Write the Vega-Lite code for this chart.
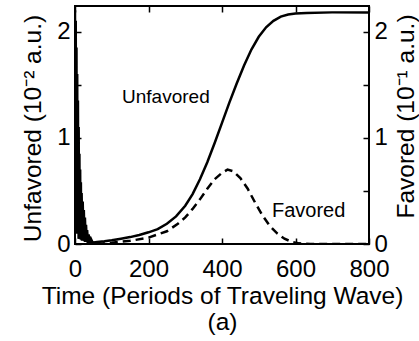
{
  "$schema": "https://vega.github.io/schema/vega-lite/v6.json",
  "width": 294,
  "height": 238,
  "autosize": {"type": "none"},
  "padding": {"left": 75, "top": 6, "right": 50, "bottom": 97},
  "background": "white",
  "config": {
    "view": {"stroke": "black", "strokeWidth": 2},
    "font": "Liberation Sans",
    "axis": {
      "domain": false,
      "grid": false,
      "labelFont": "Liberation Sans",
      "titleFont": "Liberation Sans",
      "labelFontSize": 24,
      "titleFontSize": 24.5,
      "titleFontWeight": "normal",
      "labelColor": "black",
      "titleColor": "black",
      "tickColor": "black",
      "tickWidth": 1.5,
      "tickSize": -6,
      "labelPadding": 11,
      "labelFlush": false,
      "format": ".0f"
    }
  },
  "datasets": {
    "unf": [
      {"t":0,"v":2.2},{"t":1,"v":0.3},{"t":2,"v":2.1},{"t":3,"v":0.2},{"t":4,"v":1.85},{"t":5,"v":0.1},{"t":6,"v":1.6},{"t":7,"v":0.15},{"t":8,"v":1.35},{"t":9,"v":0.1},{"t":10,"v":1.1},{"t":11,"v":0.05},{"t":12,"v":0.85},{"t":13,"v":0.1},{"t":14,"v":0.7},{"t":15,"v":0.05},{"t":16,"v":0.58},{"t":17,"v":0.08},{"t":18,"v":0.48},{"t":20,"v":0.05},{"t":21,"v":0.4},{"t":23,"v":0.04},{"t":24,"v":0.32},{"t":26,"v":0.03},{"t":27,"v":0.25},{"t":29,"v":0.03},{"t":30,"v":0.18},{"t":32,"v":0.02},{"t":33,"v":0.13},{"t":35,"v":0.02},{"t":37,"v":0.09},{"t":40,"v":0.03},{"t":43,"v":0.05},{"t":47,"v":0.02},{"t":50,"v":0.015},{"t":60,"v":0.018},{"t":80,"v":0.025},{"t":100,"v":0.035},{"t":125,"v":0.05},{"t":150,"v":0.065},{"t":175,"v":0.085},{"t":200,"v":0.11},{"t":225,"v":0.14},{"t":250,"v":0.19},{"t":275,"v":0.26},{"t":300,"v":0.36},{"t":320,"v":0.47},{"t":340,"v":0.61},{"t":360,"v":0.77},{"t":380,"v":0.95},{"t":400,"v":1.14},{"t":420,"v":1.33},{"t":440,"v":1.51},{"t":460,"v":1.68},{"t":480,"v":1.83},{"t":500,"v":1.95},{"t":520,"v":2.04},{"t":540,"v":2.1},{"t":560,"v":2.14},{"t":580,"v":2.16},{"t":600,"v":2.17},{"t":630,"v":2.175},{"t":700,"v":2.18},{"t":800,"v":2.18}
    ],
    "fav": [
      {"t":0,"v":2.0},{"t":1,"v":0.2},{"t":2,"v":1.9},{"t":3,"v":0.1},{"t":4,"v":1.5},{"t":5,"v":0.2},{"t":6,"v":1.2},{"t":7,"v":0.1},{"t":8,"v":0.9},{"t":10,"v":0.05},{"t":11,"v":0.7},{"t":13,"v":0.05},{"t":14,"v":0.5},{"t":16,"v":0.04},{"t":17,"v":0.35},{"t":19,"v":0.03},{"t":20,"v":0.25},{"t":22,"v":0.02},{"t":24,"v":0.15},{"t":27,"v":0.02},{"t":30,"v":0.08},{"t":35,"v":0.01},{"t":40,"v":0.03},{"t":50,"v":0.0},{"t":75,"v":0.005},{"t":100,"v":0.012},{"t":150,"v":0.03},{"t":200,"v":0.06},{"t":250,"v":0.12},{"t":280,"v":0.19},{"t":300,"v":0.25},{"t":320,"v":0.33},{"t":340,"v":0.42},{"t":360,"v":0.52},{"t":380,"v":0.61},{"t":400,"v":0.67},{"t":415,"v":0.7},{"t":430,"v":0.685},{"t":450,"v":0.62},{"t":470,"v":0.52},{"t":490,"v":0.39},{"t":510,"v":0.27},{"t":530,"v":0.17},{"t":550,"v":0.1},{"t":570,"v":0.05},{"t":590,"v":0.02},{"t":610,"v":0.006},{"t":640,"v":0},{"t":800,"v":0}
    ],
    "labels_u": [{"t":128,"v":1.38,"label":"Unfavored"}],
    "labels_f": [{"t":536,"v":0.31,"label":"Favored"}]
  },
  "layer": [
    {
      "layer": [
        {
          "data": {"name": "unf"},
          "mark": {"type": "line", "color": "black", "strokeWidth": 2.5, "clip": true},
          "encoding": {
            "x": {"field": "t", "type": "quantitative", "scale": {"domain": [0, 800], "nice": false},
                  "axis": {"orient": "bottom", "values": [0,100,200,300,400,500,600,700,800],
                           "labelExpr": "datum.value % 200 === 0 ? datum.label : ''", "labelPadding": 19,
                           "title": ["Time (Periods of Traveling Wave)", "(a)"], "titlePadding": 3, "titleLineHeight": 26}},
            "y": {"field": "v", "type": "quantitative", "scale": {"domain": [0, 2.24], "nice": false},
                  "axis": {"orient": "left", "values": [0,0.5,1,1.5,2],
                           "labelExpr": "datum.value % 1 === 0 ? datum.label : ''",
                           "title": "Unfavored (10⁻² a.u.)", "titleAngle": -90, "titleX": -42, "titleY": 122,
                           "titleAlign": "center", "titleBaseline": "middle"}}
          }
        },
        {
          "data": {"name": "labels_u"},
          "mark": {"type": "text", "align": "left", "baseline": "middle", "fontSize": 19, "font": "Liberation Sans", "color": "black"},
          "encoding": {
            "x": {"field": "t", "type": "quantitative"},
            "y": {"field": "v", "type": "quantitative"},
            "text": {"field": "label"}
          }
        }
      ]
    },
    {
      "layer": [
        {
          "data": {"name": "fav"},
          "mark": {"type": "line", "color": "black", "strokeWidth": 2.5, "strokeDash": [8, 5], "clip": true},
          "encoding": {
            "x": {"field": "t", "type": "quantitative", "scale": {"domain": [0, 800], "nice": false},
                  "axis": {"orient": "top", "values": [0,100,200,300,400,500,600,700,800], "labels": false, "title": null}},
            "y": {"field": "v", "type": "quantitative", "scale": {"domain": [0, 2.24], "nice": false},
                  "axis": {"orient": "right", "values": [0,0.5,1,1.5,2],
                           "labelExpr": "datum.value % 1 === 0 ? datum.label : ''",
                           "title": "Favored (10⁻¹ a.u.)", "titleAngle": -90, "titleX": 37, "titleY": 110,
                           "titleAlign": "center", "titleBaseline": "middle"}}
          }
        },
        {
          "data": {"name": "labels_f"},
          "mark": {"type": "text", "align": "left", "baseline": "middle", "fontSize": 20, "font": "Liberation Sans", "color": "black"},
          "encoding": {
            "x": {"field": "t", "type": "quantitative"},
            "y": {"field": "v", "type": "quantitative"},
            "text": {"field": "label"}
          }
        }
      ]
    }
  ],
  "resolve": {"scale": {"y": "independent"}, "axis": {"x": "independent", "y": "independent"}}
}
